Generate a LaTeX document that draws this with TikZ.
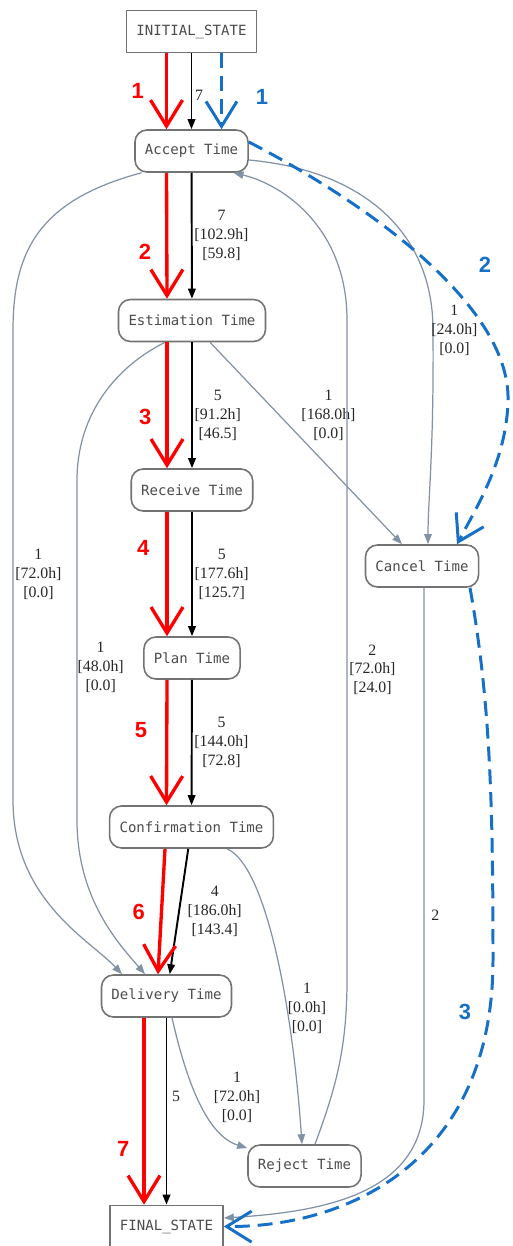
\documentclass[tikz,border=0pt]{standalone}
\usepackage{fontspec}
\setmainfont{Liberation Serif}
\setmonofont{DejaVu Sans Mono}
\newfontfamily\numfont{Liberation Sans}
\usetikzlibrary{arrows.meta,positioning}
\definecolor{edgegray}{RGB}{130,146,166}
\definecolor{pathblue}{RGB}{22,112,200}
\definecolor{pathred}{RGB}{255,0,0}

\begin{document}
\begin{tikzpicture}[x=.02cm,y=-.02cm,
 state/.style={draw=black!55,line width=.9pt,rounded corners=.24cm,fill=white,
   font=\ttfamily\fontsize{8}{9}\selectfont,text=black!70,minimum height=.84cm,inner xsep=.2cm},
 term/.style={state,rounded corners=0pt},
 freq/.style={black,line width=1.1pt,-{Triangle[length=2mm,width=1.5mm]}},
 minor/.style={edgegray,line width=.7pt,-{Triangle[length=2mm,width=1.5mm]}},
 redpath/.style={pathred,line width=1.9pt,-{Straight Barb[length=5.2mm,width=6.4mm]}},
 bluepath/.style={pathblue,line width=1.7pt,dash pattern=on 8.5pt off 4.5pt,-{Straight Barb[length=5mm,width=6.2mm]}},
 lbl/.style={font=\fontsize{9}{10.8}\selectfont,align=center,text=black!85,inner sep=1pt},
 rednum/.style={font=\numfont\bfseries\fontsize{12.5}{14}\selectfont,text=pathred,inner sep=0pt},
 bluenum/.style={rednum,text=pathblue}]
 \useasboundingbox (0,0) rectangle (512,1246);
 % states
 \node[term] (init) at (191.5,31.5) {INITIAL\_STATE};
 \foreach \nm/\x/\y/\txt in {accept/191.5/151/Accept Time, estim/192/320.5/Estimation Time,
   receive/192/490/Receive Time, plan/192/658/Plan Time, confirm/191.5/827/Confirmation Time,
   delivery/166.5/996/Delivery Time, cancel/422/566/Cancel Time, reject/304.5/1166/Reject Time}
   \node[state] (\nm) at (\x,\y) {\txt};
 \node[term] (final) at (166.5,1226.5) {FINAL\_STATE};

 % side transitions
 \draw[minor] ([xshift=-1cm]accept.south) .. controls (40,200) and (13,250) .. (13,330)
   -- node[lbl,right,pos=.52]{1\\{}[72.0h]\\{}[0.0]} (13,800)
   .. controls (13,900) and (90,940) .. ([xshift=-.89cm]delivery.north);
 \draw[minor] ([xshift=-.54cm]estim.south) .. controls (110,370) and (77,420) .. (77,480)
   -- node[lbl,right,pos=.55,inner sep=0pt]{1\\{}[48.0h]\\{}[0.0]} (77,820)
   .. controls (77,900) and (120,945) .. ([xshift=-.43cm]delivery.north);
 \draw[minor] ([xshift=.36cm]estim.south)
   -- node[lbl,pos=.36,right=.4cm]{1\\{}[168.0h]\\{}[0.0]} ([xshift=-.4cm]cancel.north);
 \draw[minor] ([yshift=-.18cm]accept.east) .. controls (360,170) and (433,230) .. (433,330)
   node[lbl,right,xshift=-.08cm]{1\\{}[24.0h]\\{}[0.0]}
   .. controls (434,450) and (428,500) .. ([xshift=.12cm]cancel.north);
 \draw[minor] ([xshift=.21cm]reject.north) .. controls (335,1090) and (347,1050) .. (347,980)
   -- node[lbl,right,pos=.47]{2\\{}[72.0h]\\{}[24.0]} (347,320)
   .. controls (347,230) and (285,185) .. ([xshift=.84cm]accept.south);
 \draw[minor] ([xshift=.71cm]confirm.south) .. controls (265,865) and (292,1000) .. ([xshift=-.05cm]reject.north)
   node[lbl] at (307,1008) {1\\{}[0.0h]\\{}[0.0]};
 \draw[minor] ([xshift=.11cm]delivery.south) .. controls (185,1075) and (205,1135) .. ([yshift=.36cm]reject.west)
   node[lbl] at (237,1097) {1\\{}[72.0h]\\{}[0.0]};
 \draw[minor] ([xshift=.04cm]cancel.south) -- node[lbl,pos=.64,right=.1cm]{2} (424,1100)
   .. controls (424,1195) and (320,1212) .. ([yshift=.17cm]final.east);

 % main flow
 \foreach \a/\b/\t/\p/\d in {init/accept/7/.55/.02, accept/estim/{7\\{}[102.9h]\\{}[59.8]}/.5/0,
   estim/receive/{5\\{}[91.2h]\\{}[46.5]}/.58/0, receive/plan/{5\\{}[177.6h]\\{}[125.7]}/.5/0,
   plan/confirm/{5\\{}[144.0h]\\{}[72.8]}/.5/0, confirm/delivery/{4\\{}[186.0h]\\{}[143.4]}/.5/.12,
   delivery/final/5/.42/.06}
   \draw[freq] (\a) -- node[lbl,pos=\p,right=\d cm]{\t} (\b);

 % red path
 \foreach \a/\b/\n/\p/\d in {init/accept/1/.49/.42, accept/estim/2/.63/.28, estim/receive/3/.59/.28,
   receive/plan/4/.29/.32, plan/confirm/5/.4/.36}
   \draw[redpath] ([xshift=-.5cm]\a.south) -- node[rednum,pos=\p,left=\d cm]{\n} ([xshift=-.5cm]\b.north);
 \draw[redpath] ([xshift=-.53cm]confirm.south) -- node[rednum,pos=.5,left=.3cm]{6} ([xshift=-.17cm]delivery.north);
 \draw[redpath] ([xshift=-.45cm]delivery.south) -- node[rednum,pos=.7,left=.26cm]{7} ([xshift=-.45cm]final.north);

 % blue path
 \draw[bluepath] ([xshift=.6cm]init.south) -- node[bluenum,pos=.58,right=.66cm]{1} ([xshift=.6cm]accept.north);
 \draw[bluepath] ([yshift=.18cm]accept.east) .. controls (380,210) and (510,310) .. (508,400)
   .. controls (507,460) and (475,510) .. ([xshift=.7cm]cancel.north)
   node[bluenum] at (485,265) {2};
 \draw[bluepath] ([xshift=.96cm]cancel.south) .. controls (490,700) and (493,800) .. (493,960)
   .. controls (493,1160) and (350,1227) .. (final.east)
   node[bluenum] at (465,1012) {3};
\end{tikzpicture}
\end{document}
